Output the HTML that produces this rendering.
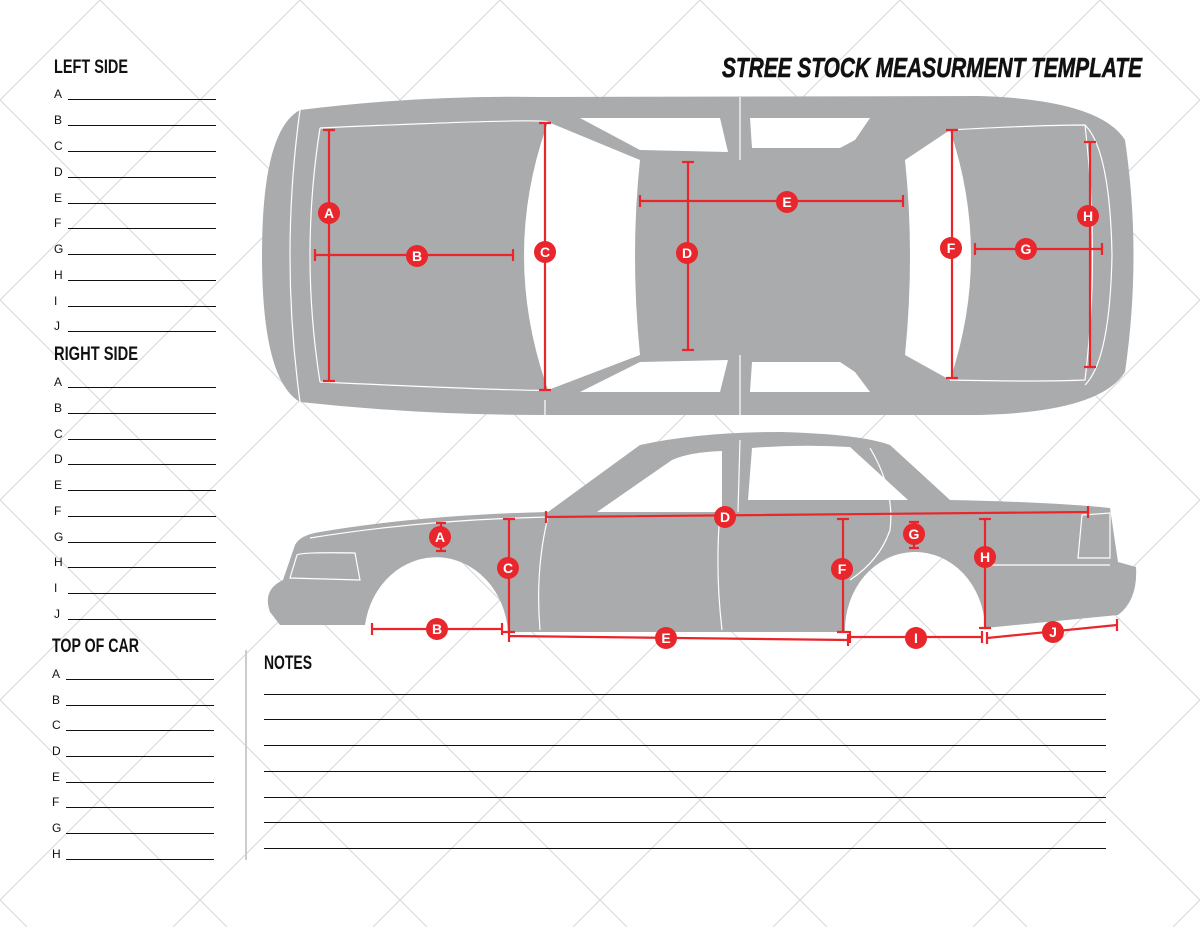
<!DOCTYPE html>
<html><head><meta charset="utf-8"><style>
html,body{margin:0;padding:0;background:#fff;width:1200px;height:927px;overflow:hidden}
svg{display:block}
.h{font-family:"Liberation Sans",sans-serif;font-weight:bold;font-size:19px;fill:#111}
.l{font-family:"Liberation Sans",sans-serif;font-size:12px;fill:#111}
.b text{font-family:"Liberation Sans",sans-serif;font-weight:bold;font-size:14px;fill:#fff;text-anchor:middle}
</style></head><body>
<svg width="1200" height="927" viewBox="0 0 1200 927" xmlns="http://www.w3.org/2000/svg">
<g stroke="#d6d6d6" stroke-width="1">
<line x1="100" y1="0" x2="1027" y2="927"/><line x1="300" y1="0" x2="1227" y2="927"/><line x1="500" y1="0" x2="1427" y2="927"/><line x1="700" y1="0" x2="1627" y2="927"/><line x1="900" y1="0" x2="1827" y2="927"/><line x1="1100" y1="0" x2="2027" y2="927"/><line x1="-100" y1="0" x2="827" y2="927"/><line x1="-300" y1="0" x2="627" y2="927"/><line x1="-500" y1="0" x2="427" y2="927"/><line x1="-700" y1="0" x2="227" y2="927"/><line x1="-900" y1="0" x2="27" y2="927"/>
<line x1="100" y1="0" x2="-827" y2="927"/><line x1="300" y1="0" x2="-627" y2="927"/><line x1="500" y1="0" x2="-427" y2="927"/><line x1="700" y1="0" x2="-227" y2="927"/><line x1="900" y1="0" x2="-27" y2="927"/><line x1="1100" y1="0" x2="173" y2="927"/><line x1="1300" y1="0" x2="373" y2="927"/><line x1="1500" y1="0" x2="573" y2="927"/><line x1="1700" y1="0" x2="773" y2="927"/><line x1="1900" y1="0" x2="973" y2="927"/><line x1="2100" y1="0" x2="1173" y2="927"/>
</g>
<text x="1142" y="77" text-anchor="end" textLength="420" lengthAdjust="spacingAndGlyphs" font-family="Liberation Sans,sans-serif" font-weight="bold" font-style="italic" font-size="28" fill="#111" stroke="#111" stroke-width="0.6">STREE STOCK MEASURMENT TEMPLATE</text>
<g>
<text class="h" x="54" y="73" textLength="74" lengthAdjust="spacingAndGlyphs">LEFT SIDE</text>
<text class="h" x="54" y="360" textLength="84" lengthAdjust="spacingAndGlyphs">RIGHT SIDE</text>
<text class="h" x="52" y="652" textLength="87" lengthAdjust="spacingAndGlyphs">TOP OF CAR</text>
<text class="h" x="264" y="669" textLength="48" lengthAdjust="spacingAndGlyphs">NOTES</text>
</g>
<g class="l">
<text x="54" y="98">A</text><text x="54" y="124">B</text><text x="54" y="150">C</text><text x="54" y="176">D</text><text x="54" y="202">E</text><text x="54" y="227">F</text><text x="54" y="253">G</text><text x="54" y="279">H</text><text x="54" y="305">I</text><text x="54" y="330">J</text>
<text x="54" y="386">A</text><text x="54" y="412">B</text><text x="54" y="438">C</text><text x="54" y="463">D</text><text x="54" y="489">E</text><text x="54" y="515">F</text><text x="54" y="541">G</text><text x="54" y="566">H</text><text x="54" y="592">I</text><text x="54" y="618">J</text>
<text x="52" y="678">A</text><text x="52" y="704">B</text><text x="52" y="729">C</text><text x="52" y="755">D</text><text x="52" y="781">E</text><text x="52" y="806">F</text><text x="52" y="832">G</text><text x="52" y="858">H</text>
</g>
<g stroke="#111" stroke-width="1">
<path d="M68 99.5H216M68 125.5H216M68 151.5H216M68 177.5H216M68 203.5H216M68 228.5H216M68 254.5H216M68 280.5H216M68 306.5H216M68 331.5H216"/>
<path d="M68 387.5H216M68 413.5H216M68 439.5H216M68 464.5H216M68 490.5H216M68 516.5H216M68 542.5H216M68 567.5H216M68 593.5H216M68 619.5H216"/>
<path d="M66 679.5H214M66 705.5H214M66 730.5H214M66 756.5H214M66 782.5H214M66 807.5H214M66 833.5H214M66 859.5H214"/>
<path d="M264 694.5H1106M264 719.5H1106M264 745.5H1106M264 771.5H1106M264 797.5H1106M264 822.5H1106M264 848.5H1106"/>
</g>
<line x1="246" y1="650" x2="246" y2="860" stroke="#ccc" stroke-width="2"/>
<path fill="#aaabac" d="M300 110Q420 95 540 97L980 96Q1100 100 1125 140Q1142 255 1125 372Q1100 412 980 415L540 415Q420 415 300 402Q262 380 262 255Q262 130 300 110Z"/>
<g fill="#fff">
<path d="M548 122Q500 255 548 390L640 355Q630 255 640 160Z"/>
<path d="M905 160Q915 255 905 355L950 380Q992 255 950 130Z"/>
<path d="M580 118L720 118L728 152L640 150Z"/>
<path d="M750 118L870 118L855 140L840 148L752 148Z"/>
<path d="M580 392L720 392L728 360L640 362Z"/>
<path d="M750 392L870 392L855 372L840 362L752 362Z"/>
</g>
<g fill="none" stroke="#fff" stroke-width="1.2">
<path d="M320 128Q540 118 548 122M320 382Q540 392 548 390M320 128Q300 255 320 382M300 110Q280 255 300 402"/>
<path d="M950 130Q1040 125 1085 125Q1100 255 1085 380Q1040 382 950 380M1085 125Q1110 150 1112 255Q1110 360 1085 385"/>
<path d="M740 97L740 160M740 355L740 415M545 400L545 415"/>
</g>
<path fill="#aaabac" d="M270 612Q262 590 283 580L295 545Q300 535 320 532Q420 515 548 512L640 445Q700 432 780 432Q860 434 890 445L950 500Q1050 502 1110 508L1118 562L1136 567Q1138 600 1118 615L985 628A70 78 0 0 0 845 632L508 632A72 80 0 0 0 365 625L280 625Z"/>
<g fill="#fff">
<path d="M597 512L672 460Q690 452 722 451L722 512Z"/>
<path d="M748 500L752 448Q800 444 850 447L908 500Z"/>
</g>
<g fill="none" stroke="#fff" stroke-width="1.2">
<path d="M290 578L297 555Q300 552 355 553L360 580ZM290 578L360 580"/>
<path d="M310 538Q420 520 548 517M548 517Q535 570 540 630M720 512Q715 570 722 630M740 440L738 512M870 448Q895 490 890 530Q880 560 850 580"/>
<path d="M1078 558L1082 515L1110 513L1110 558ZM990 565L1110 565"/>
</g>
<g stroke="#e8262b" stroke-width="2.2" fill="none">
<path d="M329 130V381M323 130H335M323 381H335"/>
<path d="M315 255H513M315 249V261M513 249V261"/>
<path d="M545 123V390M539 123H551M539 390H551"/>
<path d="M688 162V350M682 162H694M682 350H694"/>
<path d="M640 201H903M640 195V207M903 195V207"/>
<path d="M952 130V378M946 130H958M946 378H958"/>
<path d="M975 249H1102M975 243V255M1102 243V255"/>
<path d="M1090 142V367M1084 142H1096M1084 367H1096"/>
<path d="M441 523V551M436 523H446M436 551H446"/>
<path d="M372 629H502M372 623V635M502 623V635"/>
<path d="M509 519V632M503 519H515M503 632H515"/>
<path d="M546 517L1088 512M546 511V523M1088 506V518"/>
<path d="M509 636L848 640M509 630V642M848 634V646"/>
<path d="M843 519V632M837 519H849M837 632H849"/>
<path d="M914 522V548M909 522H919M909 548H919"/>
<path d="M985 519V628M979 519H991M979 628H991"/>
<path d="M850 637H982M850 631V643M982 631V643"/>
<path d="M987 638L1117 625M987 632V644M1117 619V631"/>
</g>
<g class="b" fill="#e8262b">
<circle cx="329" cy="213" r="11"/><text x="329" y="218">A</text>
<circle cx="417" cy="256" r="11"/><text x="417" y="261">B</text>
<circle cx="545" cy="252" r="11"/><text x="545" y="257">C</text>
<circle cx="687" cy="253" r="11"/><text x="687" y="258">D</text>
<circle cx="787" cy="202" r="11"/><text x="787" y="207">E</text>
<circle cx="951" cy="248" r="11"/><text x="951" y="253">F</text>
<circle cx="1026" cy="249" r="11"/><text x="1026" y="254">G</text>
<circle cx="1088" cy="216" r="11"/><text x="1088" y="221">H</text>
<circle cx="440" cy="537" r="11"/><text x="440" y="542">A</text>
<circle cx="437" cy="629" r="11"/><text x="437" y="634">B</text>
<circle cx="508" cy="568" r="11"/><text x="508" y="573">C</text>
<circle cx="725" cy="517" r="11"/><text x="725" y="522">D</text>
<circle cx="666" cy="638" r="11"/><text x="666" y="643">E</text>
<circle cx="842" cy="569" r="11"/><text x="842" y="574">F</text>
<circle cx="914" cy="534" r="11"/><text x="914" y="539">G</text>
<circle cx="985" cy="557" r="11"/><text x="985" y="562">H</text>
<circle cx="916" cy="638" r="11"/><text x="916" y="643">I</text>
<circle cx="1053" cy="632" r="11"/><text x="1053" y="637">J</text>
</g>
</svg>
</body></html>
